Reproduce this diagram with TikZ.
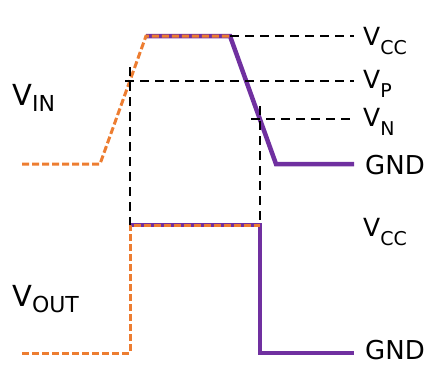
\documentclass[tikz,border=0pt]{standalone}
\usepackage{fontspec}
\setmainfont{DejaVu Sans}
\definecolor{vorange}{HTML}{ED7D31}
\definecolor{vpurple}{HTML}{7030A0}
\tikzset{
  purpleline/.style={draw=vpurple,line width=4.5pt,line join=miter},
  orangeline/.style={draw=vorange,line width=3pt,dash pattern=on 7pt off 3pt},
  guide/.style={draw=black,line width=2pt,dash pattern=on 9pt off 6pt},
  rlabel/.style={anchor=base west,inner sep=0pt,font=\fontsize{25}{25}\selectfont},
  llabel/.style={anchor=base west,inner sep=0pt,font=\fontsize{29}{29}\selectfont},
}
\newcommand{\rsub}[1]{\raisebox{-9pt}{\fontsize{19}{19}\selectfont #1}}
\newcommand{\lsub}[1]{\raisebox{-6pt}{\fontsize{22}{22}\selectfont #1}}
\begin{document}
\begin{tikzpicture}[x=1pt,y=-1pt]
\path[use as bounding box] (0,0) rectangle (429,365);
% input waveform
\coordinate (i0) at (22,164);
\coordinate (i1) at (100,164);
\coordinate (i2) at (146,36);
\coordinate (i3) at (230,36);
\coordinate (i4) at (276,164);
\coordinate (i5) at (354,164);
% output waveform
\coordinate (o0) at (22,353);
\coordinate (o1) at (130,353);
\coordinate (o2) at (130,225);
\coordinate (o3) at (260,225);
\coordinate (o4) at (260,353);
\coordinate (o5) at (354,353);
% guide points
\coordinate (vcce) at (354,36);
\coordinate (vps) at (125,81);
\coordinate (vpe) at (354,81);
\coordinate (vns) at (251,119);
\coordinate (vne) at (354,119);
\coordinate (a1) at (130,67);
\coordinate (b1) at (260,106);
% purple (inverted) traces
\draw[purpleline] (i2) -- (i3) -- (i4) -- (i5);
\draw[purpleline] (o2) -- (o3) -- (o4) -- (o5);
% orange dashed (non-inverted) traces
\draw[orangeline] (i0) -- (i1) -- (i2) -- (i3);
\draw[orangeline] (o0) -- (o1) -- (o2) -- (o3);
% black dashed guides
\draw[guide] (i3) -- (vcce);
\draw[guide] (vps) -- (vpe);
\draw[guide] (vns) -- (vne);
\draw[guide] (a1) -- (o2);
\draw[guide] (b1) -- (o3);
% labels
\node[rlabel] (lvcc1) at (363,45) {V\rsub{CC}};
\node[rlabel] (lvp) at (363,88) {V\rsub{P}};
\node[rlabel] (lvn) at (363,126) {V\rsub{N}};
\node[rlabel,font=\fontsize{26}{26}\selectfont] (lgnd1) at (365,174) {GND};
\node[rlabel] (lvcc2) at (363,236) {V\rsub{CC}};
\node[rlabel,font=\fontsize{26}{26}\selectfont] (lgnd2) at (365,359) {GND};
\node[llabel] (lvin) at (12,105) {V\lsub{IN}};
\node[llabel] (lvout) at (12,306) {V\lsub{OUT}};
\end{tikzpicture}
\end{document}
